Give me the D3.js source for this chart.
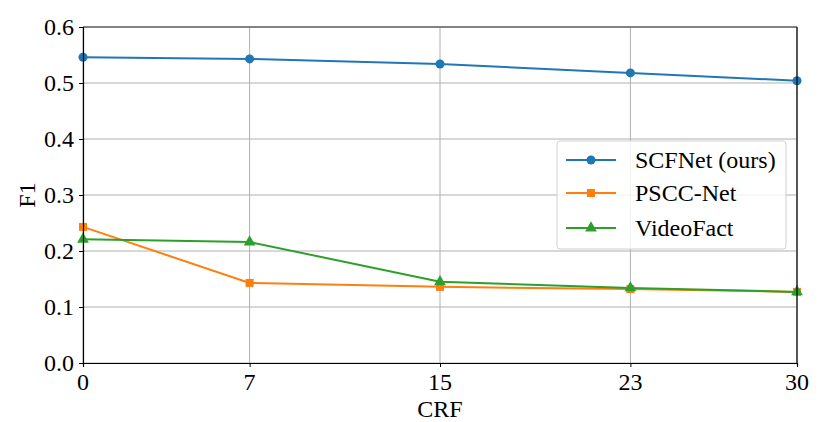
<!DOCTYPE html>
<html><head><meta charset="utf-8">
<script src="https://cdn.jsdelivr.net/npm/d3@7"></script>
<style>body{margin:0;background:#fff}svg{display:block}</style>
</head><body>
<svg id="c" width="830" height="422"></svg>
<script>
const crf = [0, 7, 15, 23, 30];
const scfnet = [0.546, 0.543, 0.534, 0.518, 0.504];
const psccnet = [0.243, 0.143, 0.136, 0.132, 0.127];
const videofact = [0.221, 0.216, 0.145, 0.134, 0.127];
const yTicks = [0.0, 0.1, 0.2, 0.3, 0.4, 0.5, 0.6];
const seriesNames = ["SCFNet (ours)", "PSCC-Net", "VideoFact"];

const series = [
  {name: seriesNames[0], values: scfnet, color: "#1f77b4", marker: "circle"},
  {name: seriesNames[1], values: psccnet, color: "#ff7f0e", marker: "square"},
  {name: seriesNames[2], values: videofact, color: "#2ca02c", marker: "triangle"}
];

const svg = d3.select("#c");
const L = 83, R = 797, T = 27, B = 363;
const x = d3.scaleLinear().domain([0, 30]).range([L, R]);
const y = d3.scaleLinear().domain([0, 0.6]).range([B, T]);
const font = "'Liberation Serif','Times New Roman',serif";

// grid
svg.append("g").selectAll("line").data(crf).join("line")
  .attr("x1", d => x(d)).attr("x2", d => x(d)).attr("y1", T).attr("y2", B)
  .attr("stroke", "#b0b0b0").attr("stroke-width", 1);
svg.append("g").selectAll("line").data(yTicks).join("line")
  .attr("x1", L).attr("x2", R).attr("y1", d => y(d)).attr("y2", d => y(d))
  .attr("stroke", "#b0b0b0").attr("stroke-width", 1);

// lines & markers
const line = d3.line().x((d, i) => x(crf[i])).y(d => y(d));
const sym = {circle: d3.symbolCircle, square: d3.symbolSquare, triangle: d3.symbolTriangle};
const symSize = {circle: 64, square: 64, triangle: 60};
series.forEach(s => {
  svg.append("path").datum(s.values).attr("d", line)
    .attr("fill", "none").attr("stroke", s.color).attr("stroke-width", 2);
});
series.forEach(s => {
  svg.append("g").selectAll("path").data(s.values).join("path")
    .attr("transform", (d, i) => `translate(${x(crf[i])},${y(d)})`)
    .attr("d", d3.symbol().type(sym[s.marker]).size(symSize[s.marker]))
    .attr("fill", s.color);
});

// spines
svg.append("line").attr("x1", L).attr("x2", R).attr("y1", T).attr("y2", T).attr("stroke", "#666").attr("stroke-width", 1.5);
svg.append("line").attr("x1", R).attr("x2", R).attr("y1", T).attr("y2", B).attr("stroke", "#000").attr("stroke-width", 1.2);

// axes (ticks + domain); labels drawn from the same scales
const xAxis = svg.append("g").attr("transform", `translate(0,${B})`)
  .call(d3.axisBottom(x).tickValues(crf).tickFormat("").tickSize(4));
const yAxis = svg.append("g").attr("transform", `translate(${L},0)`)
  .call(d3.axisLeft(y).tickValues(yTicks).tickFormat("").tickSize(4));
[xAxis, yAxis].forEach(a => {
  a.select(".domain").attr("stroke", "#000").attr("stroke-width", 1.2);
  a.selectAll(".tick line").attr("stroke", "#000").attr("stroke-width", 1);
});
const fx = d3.format("d"), fy = d3.format(".1f");
svg.append("g").selectAll("text").data(crf).join("text")
  .attr("x", d => x(d)).attr("y", B + 27).attr("text-anchor", "middle")
  .attr("font-family", font).attr("font-size", 24).attr("fill", "#000").text(d => fx(d));
svg.append("g").selectAll("text").data(yTicks).join("text")
  .attr("x", L - 9).attr("y", d => y(d)).attr("dy", "0.33em").attr("text-anchor", "end")
  .attr("font-family", font).attr("font-size", 24).attr("fill", "#000").text(d => fy(d));

svg.append("text").attr("x", (L + R) / 2).attr("y", 417).attr("text-anchor", "middle")
  .attr("font-family", font).attr("font-size", 24).text("CRF");
svg.append("text").attr("transform", `translate(35,${(T + B) / 2}) rotate(-90)`).attr("text-anchor", "middle")
  .attr("font-family", font).attr("font-size", 24).text("F1");

// legend
const lg = svg.append("g");
lg.append("rect").attr("x", 557).attr("y", 141).attr("width", 229).attr("height", 108)
  .attr("rx", 3).attr("fill", "#fff").attr("fill-opacity", 0.8).attr("stroke", "#d0d0d0").attr("stroke-width", 1);
const ly = [160, 193, 228];
series.forEach((s, i) => {
  lg.append("line").attr("x1", 566).attr("x2", 616).attr("y1", ly[i]).attr("y2", ly[i])
    .attr("stroke", s.color).attr("stroke-width", 2);
  lg.append("path").attr("transform", `translate(591,${ly[i]})`)
    .attr("d", d3.symbol().type(sym[s.marker]).size(symSize[s.marker])).attr("fill", s.color);
  lg.append("text").attr("x", 635).attr("y", ly[i]).attr("dy", "0.35em")
    .attr("font-family", font).attr("font-size", 24).text(s.name);
});
</script>
</body></html>
